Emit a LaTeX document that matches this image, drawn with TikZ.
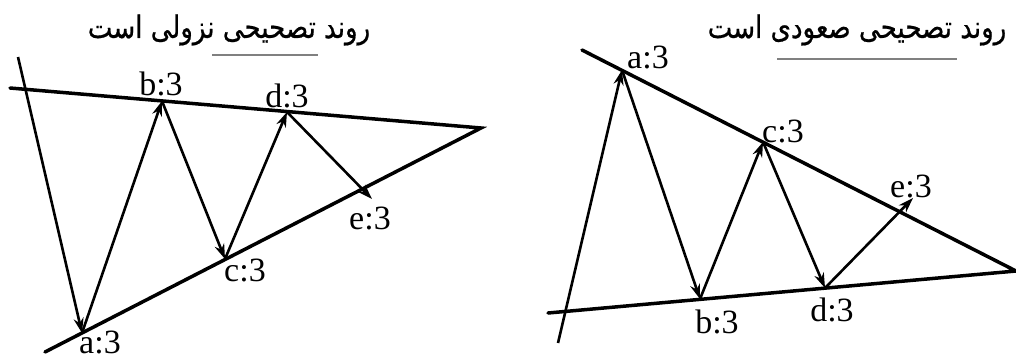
\documentclass[tikz,border=0pt]{standalone}
\usepackage{fontspec}
\setmainfont{Liberation Serif}
\newfontfamily\farsi[Script=Arabic,FakeStretch=0.84,FakeBold=0.6]{DejaVu Sans}
\TeXXeTstate=1
\usetikzlibrary{arrows.meta}

\tikzset{
  edge/.style={line width=3.5pt, line cap=round},
  move/.style={line width=2.6pt, -{Stealth[length=15pt,width=10pt]}},
  lbl/.style={font=\fontsize{34}{34}\selectfont, inner sep=0pt},
  ttl/.style={font=\farsi\fontsize{31}{34}\selectfont, inner sep=0pt},
  uline/.style={gray, line width=1.5pt}
}

\begin{document}
\begin{tikzpicture}[x=1pt, y=-1pt]
  \useasboundingbox (0,0) rectangle (1016,362);
  % --- left: downward correction ---
  \coordinate (tL) at (481,128);
  \coordinate (uL) at (10,88);
  \coordinate (wL) at (45,352);
  \coordinate (sL) at (18,57);
  \coordinate (aL) at (82,333);
  \coordinate (bL) at (162,101);
  \coordinate (cL) at (225,259);
  \coordinate (dL) at (287,112);
  \coordinate (eL) at (372,199);
  \draw[edge] (uL) -- (tL) -- (wL);
  \draw[move] (sL) -- (aL);
  \draw[move] (aL) -- (bL);
  \draw[move] (bL) -- (cL);
  \draw[move] (cL) -- (dL);
  \draw[move] (dL) -- (eL);
  \node[lbl] (aLt) at (100,342) {a:3};
  \node[lbl] (bLt) at (161,84) {b:3};
  \node[lbl] (cLt) at (245,270) {c:3};
  \node[lbl] (dLt) at (287,96) {d:3};
  \node[lbl] (eLt) at (370,218) {e:3};
  \node[ttl] (titleL) at (229,30) {\beginR روند تصحیحی نزولی است\endR};
  \draw[uline] (212,55) -- (318,55);
  % --- right: upward correction ---
  \coordinate (tR) at (1016,271);
  \coordinate (uR) at (582,50);
  \coordinate (wR) at (548,313);
  \coordinate (sR) at (558,343);
  \coordinate (aR) at (622,70);
  \coordinate (bR) at (700,299);
  \coordinate (cR) at (763,142);
  \coordinate (dR) at (825,288);
  \coordinate (eR) at (913,198);
  \draw[edge] (uR) -- (tR) -- (wR);
  \draw[move] (sR) -- (aR);
  \draw[move] (aR) -- (bR);
  \draw[move] (bR) -- (cR);
  \draw[move] (cR) -- (dR);
  \draw[move] (dR) -- (eR);
  \node[lbl] (aRt) at (648,57) {a:3};
  \node[lbl] (bRt) at (717,322) {b:3};
  \node[lbl] (cRt) at (783,131) {c:3};
  \node[lbl] (dRt) at (832,310) {d:3};
  \node[lbl] (eRt) at (911,186) {e:3};
  \node[ttl] (titleR) at (857,30) {\beginR روند تصحیحی صعودی است\endR};
  \draw[uline] (777,59) -- (957,59);
\end{tikzpicture}
\end{document}
